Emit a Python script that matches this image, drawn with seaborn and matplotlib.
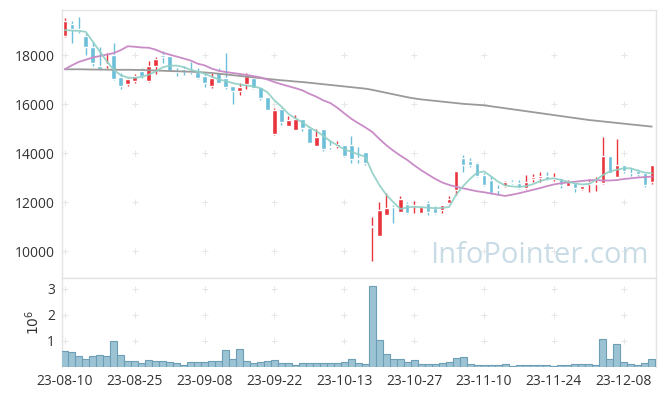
import numpy as np
import pandas as pd
import matplotlib
matplotlib.use('Agg')
import matplotlib.pyplot as plt
import seaborn as sns

# daily OHLC (KRW), 2023-08-10 .. 2023-12-14
opens = [18776, 19265, 19050, 18775, 18310, 17550, 17580, 18000, 17090, 16800,
         16955, 17350, 16960, 17570, 18000, 17970, 17360, 17430, 17390, 17320,
         17140, 16750, 17320, 17050, 16735, 16545, 16815, 17075, 16680, 16270,
         14775, 15785, 15100, 14940, 15390, 15010, 14285, 14970, 14290, 14285,
         14330, 14330, 13800, 14040, 10970, 10630, 11470, 11800, 11610, 11910,
         11820, 11540, 11975, 11745, 11675, 11975, 12490, 13785, 13675, 13580,
         13100, 12900, 12530, 12670, 12800, 12790, 12560, 12940, 12975, 13060,
         12940, 12970, 12670, 12765, 12530, 12740, 12725, 12765, 13880, 13035,
         13510, 13200, 13265, 13175, 12805]
highs = [19530, 19390, 19560, 18885, 18520, 18340, 18095, 18480, 17250, 17075,
         17225, 17460, 17755, 17930, 18175, 17990, 17460, 17570, 17725, 17460,
         17250, 17265, 17460, 18070, 16735, 16870, 17250, 17120, 16680, 16270,
         15850, 15850, 15510, 15550, 15390, 15100, 14970, 14970, 14530, 14475,
         14330, 14695, 14230, 14040, 11378, 12015, 12380, 11880, 12260, 11990,
         12050, 11810, 12050, 11830, 11880, 12250, 13265, 13920, 13785, 13620,
         13180, 13050, 12700, 12860, 12900, 12900, 13100, 13145, 13240, 13240,
         13175, 12970, 12900, 12765, 12655, 12935, 13030, 14665, 13880, 14560,
         13510, 13380, 13335, 13200, 13510]
lows = [18722, 18490, 18890, 18000, 17560, 17390, 17460, 16980, 16600, 16750,
        16870, 17050, 16910, 17225, 17660, 17330, 17140, 17180, 17225, 17020,
        16680, 16650, 16845, 16600, 15990, 16390, 16600, 16600, 16160, 15750,
        14735, 15150, 15100, 14940, 14900, 14395, 14285, 14100, 14150, 14200,
        13840, 13580, 13580, 13530, 9595, 10630, 11470, 11160, 11610, 11520,
        11560, 11540, 11470, 11520, 11565, 11975, 12290, 13215, 13430, 13035,
        12645, 12340, 12290, 12625, 12725, 12550, 12530, 12805, 12830, 12900,
        12870, 12585, 12670, 12400, 12490, 12420, 12440, 12735, 13175, 13035,
        13175, 13080, 13080, 12625, 12725]
closes = [19388, 19050, 18990, 18340, 17690, 17440, 17620, 17010, 16750, 17020,
          17140, 17155, 17550, 17825, 17930, 17345, 17295, 17335, 17320, 17075,
          16845, 17075, 16875, 16710, 16545, 16680, 17140, 16640, 16260, 15750,
          15755, 15275, 15345, 15390, 15010, 14420, 14665, 14150, 14250, 14370,
          13890, 13745, 13770, 13580, 11023, 11675, 11745, 11780, 12125, 11565,
          11860, 11810, 11610, 11565, 11880, 12140, 13265, 13510, 13510, 13075,
          12695, 12360, 12490, 12830, 12780, 12585, 12830, 13040, 13075, 12940,
          13040, 12695, 12805, 12560, 12655, 12805, 12790, 13880, 13175, 13510,
          13265, 13175, 13135, 12700, 13510]
# volume in millions of shares
volume = [0.60, 0.56, 0.41, 0.32, 0.41, 0.47, 0.41, 0.99, 0.47, 0.22,
          0.22, 0.14, 0.26, 0.22, 0.22, 0.18, 0.14, 0.09, 0.18, 0.18,
          0.18, 0.22, 0.22, 0.64, 0.29, 0.68, 0.22, 0.14, 0.18, 0.22,
          0.26, 0.14, 0.14, 0.06, 0.14, 0.14, 0.14, 0.14, 0.14, 0.14,
          0.18, 0.29, 0.14, 0.10, 3.10, 1.03, 0.49, 0.29, 0.29, 0.18,
          0.26, 0.10, 0.10, 0.10, 0.14, 0.18, 0.33, 0.37, 0.10, 0.06,
          0.06, 0.06, 0.06, 0.10, 0.03, 0.06, 0.06, 0.06, 0.06, 0.06,
          0.03, 0.06, 0.06, 0.10, 0.10, 0.10, 0.06, 1.09, 0.29, 0.90,
          0.18, 0.10, 0.06, 0.14, 0.29]
# moving averages
ma_short = [19020, 19000, 18990, 18950, 18550, 18150, 17750, 17400, 17180, 17080,
            17070, 17110, 17200, 17330, 17500, 17570, 17570, 17510, 17400, 17330,
            17240, 17120, 17010, 16940, 16860, 16800, 16760, 16720, 16650, 16480,
            16150, 15900, 15600, 15420, 15250, 15050, 14900, 14700, 14480, 14320,
            14150, 14050, 13950, 13850, 13200, 12700, 12300, 12000, 11720, 11780,
            11810, 11790, 11770, 11750, 11760, 11800, 12300, 12650, 12950, 13200,
            13250, 13050, 12830, 12680, 12640, 12620, 12650, 12730, 12850, 12940,
            12970, 12900, 12830, 12760, 12720, 12740, 12900, 13100, 13250, 13320,
            13380, 13380, 13280, 13200, 13180]
ma_mid = [17420, 17580, 17720, 17810, 17900, 17960, 18020, 18080, 18200, 18360,
          18340, 18310, 18300, 18220, 18100, 18020, 17940, 17860, 17780, 17650,
          17580, 17450, 17360, 17310, 17270, 17230, 17190, 17140, 17090, 17000,
          16900, 16810, 16730, 16650, 16560, 16420, 16300, 16150, 16040, 15850,
          15620, 15400, 15220, 15050, 14860, 14580, 14320, 14100, 13900, 13720,
          13500, 13300, 13120, 12950, 12800, 12700, 12620, 12560, 12500, 12440,
          12400, 12350, 12300, 12250, 12300, 12360, 12430, 12500, 12570, 12650,
          12720, 12770, 12800, 12830, 12860, 12890, 12900, 12880, 12880, 12900,
          12940, 12970, 13000, 13020, 13040]
ma_long = [17420, 17420, 17420, 17415, 17410, 17410, 17405, 17400, 17400, 17400,
           17395, 17390, 17380, 17370, 17360, 17350, 17340, 17330, 17320, 17310,
           17290, 17270, 17240, 17210, 17180, 17150, 17120, 17090, 17060, 17030,
           17000, 16970, 16950, 16920, 16900, 16870, 16840, 16810, 16780, 16750,
           16720, 16690, 16660, 16630, 16580, 16520, 16460, 16400, 16340, 16280,
           16230, 16190, 16160, 16130, 16100, 16070, 16040, 16010, 15990, 15970,
           15950, 15910, 15870, 15830, 15790, 15750, 15710, 15670, 15630, 15590,
           15550, 15510, 15470, 15430, 15390, 15350, 15320, 15290, 15260, 15230,
           15200, 15170, 15140, 15110, 15080]
holidays = ['2023-08-15', '2023-09-28', '2023-09-29', '2023-10-02', '2023-10-03', '2023-10-09']

dates = pd.bdate_range('2023-08-10', '2023-12-14')
dates = dates[~dates.isin(pd.to_datetime(holidays))]
idx = np.arange(len(closes))

df = pd.DataFrame({'i': idx, 'open': opens, 'high': highs, 'low': lows, 'close': closes,
                   'vol': volume, 'ma5': ma_short, 'ma20': ma_mid, 'ma120': ma_long})

sns.set_theme(style='white')
plt.rcParams['font.family'] = ['Open Sans', 'DejaVu Sans']

RED = '#e8343c'
BLUE = '#6cbfd9'
GRID = '#e6e6e6'
SPINE = '#e4e4e4'

fig = plt.figure(figsize=(6.65, 3.96), dpi=100)
ax = fig.add_axes([62 / 665, 1 - 278 / 396, 594 / 665, 268 / 396])
axv = fig.add_axes([62 / 665, 1 - 367 / 396, 594 / 665, 89 / 396], sharex=ax)

up = df['close'] >= df['open']
colors = np.where(up, RED, BLUE)
body_lo = np.minimum(df['open'], df['close'])
body_h = np.maximum(np.abs(df['close'] - df['open']), 25)

ax.vlines(df['i'], df['low'], df['high'], colors=colors, lw=1.0, zorder=3)
ax.bar(df['i'], body_h, bottom=body_lo, width=0.65, color=colors, zorder=3)

sns.lineplot(data=df, x='i', y='ma120', ax=ax, color='#9a9a9a', lw=1.3, zorder=4)
sns.lineplot(data=df, x='i', y='ma20', ax=ax, color='#c98cc7', lw=1.3, zorder=4)
sns.lineplot(data=df, x='i', y='ma5', ax=ax, color='#8fcfc5', lw=1.3, zorder=5, alpha=0.9)

xt = np.arange(0, len(idx), 10)
yt = [10000, 12000, 14000, 16000, 18000]
gx, gy = np.meshgrid(xt, yt)
ax.scatter(gx.ravel(), gy.ravel(), marker='+', s=16, color=GRID, lw=0.7, zorder=1)

ax.text(0.987, 0.055, 'InfoPointer.com', transform=ax.transAxes, ha='right', va='baseline',
        fontsize=21, color='#c9dce6', zorder=2)

ax.set_xlim(-0.4, 84.6)
ax.set_ylim(8900, 19840)
ax.set_yticks(yt)
ax.set_yticklabels([str(v) for v in yt])
ax.set_xlabel('')
ax.set_ylabel('')

# volume panel
axv.bar(df['i'], df['vol'], width=1.0, color='#9cc3d4', edgecolor='#6c9fb6', lw=0.8, zorder=3)
vt = [1, 2, 3]
gx, gy = np.meshgrid(xt, vt)
axv.scatter(gx.ravel(), gy.ravel(), marker='+', s=16, color=GRID, lw=0.7, zorder=1)
axv.set_ylim(0, 3.42)
axv.set_yticks(vt)
axv.set_ylabel(r'$10^6$', fontsize=10, color='#333333', labelpad=3)
axv.set_xticks(xt)
axv.set_xticklabels([dates[i].strftime('%y-%m-%d') for i in xt])
plt.setp(ax.get_xticklabels(), visible=False)

for a in (ax, axv):
    for s in a.spines.values():
        s.set_color(SPINE)
        s.set_linewidth(1.0)
    a.tick_params(axis='both', direction='inout', length=4, width=0.7, color=GRID,
                  labelsize=10, labelcolor='#333333', pad=3)
axv.spines['bottom'].set_visible(False)

fig.savefig('out.png', dpi=100)
